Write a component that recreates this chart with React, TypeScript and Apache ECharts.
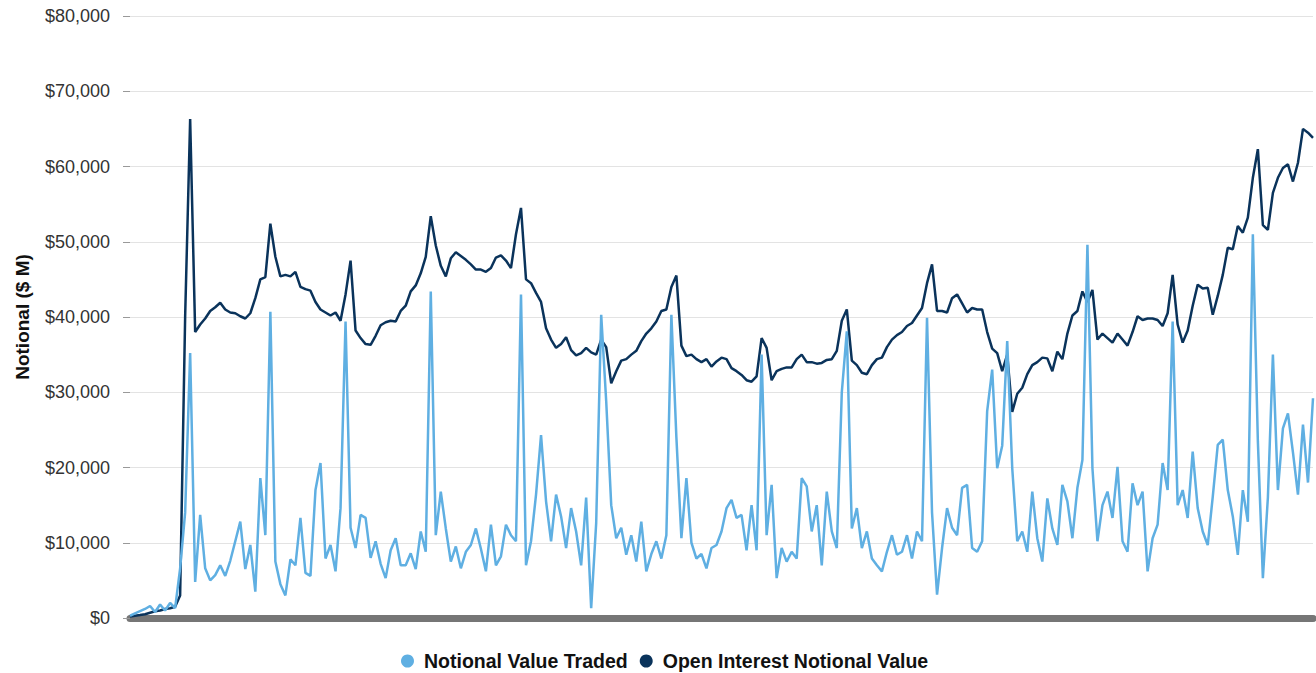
import React, { useEffect, useRef } from "react";
import * as echarts from "echarts";

// Values in $ thousand million (i.e. $ billions); converted to $ M below
const notionalTradedK = [
  0.3, 0.6, 0.9, 1.2, 1.6, 0.8, 1.8, 1.0, 2.0, 1.3,
  6.6, 14.0, 35.2, 4.8, 13.7, 6.6, 5.0, 5.7, 7.0, 5.6,
  7.6, 10.2, 12.8, 6.5, 9.7, 3.5, 18.6, 11.0, 40.7, 7.5,
  4.5, 3.0, 7.8, 7.0, 13.3, 6.0, 5.6, 17.0, 20.6, 7.9,
  9.7, 6.2, 14.6, 39.4, 12.0, 9.3, 13.7, 13.3, 8.0, 10.2,
  7.2, 5.3, 9.0, 10.6, 7.0, 7.0, 8.6, 6.5, 11.5, 8.8,
  43.4, 11.0, 16.8, 11.9, 7.5, 9.5, 6.6, 8.8, 9.7, 11.9,
  9.2, 6.2, 12.4, 7.0, 8.2, 12.4, 11.0, 10.2, 43.0, 7.0,
  10.2, 16.4, 24.3, 15.5, 10.2, 16.4, 13.5, 9.3, 14.6, 11.5,
  7.0, 16.0, 1.3, 12.6, 40.3, 28.8, 15.0, 10.6, 12.0, 8.4,
  11.0, 7.5, 12.8, 6.2, 8.5, 10.2, 7.9, 11.0, 40.3, 24.0,
  10.6, 18.6, 10.0, 7.9, 8.5, 6.6, 9.3, 9.7, 11.5, 14.6,
  15.7, 13.3, 13.7, 9.0, 15.0, 9.0, 35.0, 11.0, 17.7, 5.3,
  9.3, 7.5, 8.8, 7.9, 18.6, 17.5, 11.5, 15.0, 7.0, 16.8,
  11.5, 9.3, 30.0, 38.1, 11.9, 14.6, 9.3, 11.5, 7.9, 7.0,
  6.2, 8.8, 11.0, 8.4, 8.8, 11.0, 7.9, 11.5, 10.2, 39.9,
  14.0, 3.1, 9.3, 14.6, 12.0, 11.0, 17.3, 17.7, 9.3, 8.8,
  10.2, 27.5, 33.0, 19.9, 22.9, 36.8, 19.9, 10.2, 11.5, 8.8,
  16.8, 10.6, 7.5, 15.9, 11.9, 9.7, 17.7, 15.5, 10.6, 17.3,
  21.0, 49.6, 19.9, 10.2, 15.0, 16.8, 13.3, 20.1, 10.2, 8.8,
  17.9, 15.0, 16.8, 6.2, 10.6, 12.4, 20.6, 17.0, 39.4, 15.0,
  17.0, 13.3, 22.1, 14.6, 11.5, 9.7, 16.1, 23.0, 23.7, 17.0,
  13.5, 8.4, 17.0, 12.8, 51.0, 23.5, 5.3, 16.0, 35.0, 17.0,
  25.2, 27.2, 22.0, 16.4, 25.7, 18.0, 29.2,
];

const openInterestK = [
  0.2, 0.3, 0.4, 0.5, 0.7, 0.9, 1.0, 1.2, 1.3, 1.5,
  3.0, 40.0, 66.3, 38.0, 39.0, 39.8, 40.8, 41.3, 41.9, 41.0,
  40.6, 40.5, 40.1, 39.8, 40.5, 42.5, 45.0, 45.3, 52.4, 48.0,
  45.4, 45.6, 45.4, 46.0, 44.0, 43.7, 43.5, 42.0, 41.0, 40.6,
  40.2, 40.6, 39.5, 43.0, 47.5, 38.2, 37.2, 36.4, 36.3, 37.5,
  38.9, 39.3, 39.5, 39.4, 40.8, 41.5, 43.4, 44.2, 45.8, 48.0,
  53.4, 49.5, 46.8, 45.4, 47.8, 48.6, 48.1, 47.6, 47.0, 46.3,
  46.3, 46.0, 46.5, 47.9, 48.2, 47.5, 46.5, 51.0, 54.5, 45.0,
  44.5, 43.2, 42.0, 38.5, 37.0, 35.9, 36.4, 37.3, 35.6, 34.9,
  35.2, 35.9, 35.3, 35.0, 37.0, 36.0, 31.2, 32.8, 34.2, 34.4,
  35.0, 35.5, 36.8, 37.8, 38.5, 39.4, 40.8, 41.0, 44.0, 45.5,
  36.2, 34.8, 35.0, 34.4, 34.0, 34.4, 33.4, 34.1, 34.6, 34.4,
  33.2, 32.8, 32.3, 31.6, 31.4, 32.1, 37.2, 35.9, 31.6, 32.8,
  33.1, 33.3, 33.3, 34.4, 35.0, 34.0, 34.0, 33.8, 33.9, 34.3,
  34.4, 35.5, 39.5, 41.0, 34.2, 33.6, 32.6, 32.4, 33.6, 34.4,
  34.6, 36.0, 37.0, 37.6, 38.0, 38.8, 39.2, 40.2, 41.2, 44.5,
  47.0, 40.8, 40.8, 40.6, 42.5, 43.0, 41.8, 40.6, 41.2, 41.0,
  41.0, 38.0, 35.8, 35.2, 32.8, 35.0, 27.4, 29.8, 30.6, 32.4,
  33.6, 34.0, 34.6, 34.5, 32.8, 35.4, 34.4, 37.8, 40.2, 40.8,
  43.4, 42.0, 43.6, 37.0, 37.8, 37.2, 36.6, 37.8, 37.0, 36.2,
  38.0, 40.1, 39.6, 39.8, 39.8, 39.6, 38.8, 40.5, 45.6, 39.0,
  36.6, 38.2, 41.5, 44.3, 43.8, 43.9, 40.3, 42.8, 45.6, 49.2,
  49.0, 52.1, 51.2, 53.2, 58.5, 62.3, 52.2, 51.6, 56.5, 58.5,
  59.8, 60.3, 58.0, 60.5, 65.0, 64.5, 63.8,
];

const seriesNames = ["Notional Value Traded", "Open Interest Notional Value"];
const yTicks = [0, 10000, 20000, 30000, 40000, 50000, 60000, 70000, 80000];

const BOLD_FONT = '"Liberation Sans Narrow", "Arial Narrow", "Liberation Sans", Arial, sans-serif';

export default function App() {
  const ref = useRef<HTMLDivElement>(null);

  useEffect(() => {
    document.body.style.margin = "0";
    if (!ref.current) return;
    const chart = echarts.init(ref.current, undefined, { renderer: "svg" });
    const categories = notionalTradedK.map((_, i) => String(i));
    chart.setOption({
      animation: false,
      backgroundColor: "#ffffff",
      grid: { left: 130, right: 3, top: 16, bottom: 55, containLabel: false },
      legend: {
        data: seriesNames,
        top: 651,
        left: 401,
        padding: 0,
        icon: "circle",
        itemWidth: 13,
        itemHeight: 13,
        itemGap: 12,
        textStyle: {
          fontFamily: BOLD_FONT,
          fontWeight: "bold",
          fontSize: 19.5,
          color: "#111",
          padding: [0, 0, 0, 5],
        },
      },
      xAxis: {
        type: "category",
        data: categories,
        boundaryGap: false,
        offset: 3,
        axisLine: { show: true, lineStyle: { color: "#767676", width: 7 } },
        axisTick: { show: false },
        axisLabel: { show: false },
        splitLine: { show: false },
      },
      yAxis: {
        type: "value",
        min: yTicks[0],
        max: yTicks[yTicks.length - 1],
        interval: yTicks[1] - yTicks[0],
        name: "Notional ($ M)",
        nameLocation: "middle",
        nameGap: 98,
        nameTextStyle: { fontFamily: BOLD_FONT, fontWeight: "bold", fontSize: 19, color: "#111" },
        axisLine: { show: false },
        axisTick: { show: true, length: 7, lineStyle: { color: "#999" } },
        axisLabel: {
          margin: 20,
          fontFamily: '"Liberation Sans", Arial, sans-serif',
          fontSize: 18,
          color: "#333",
          formatter: (v: number) => "$" + v.toLocaleString("en-US"),
        },
        splitLine: { show: true, lineStyle: { color: "#e3e3e3", width: 1 } },
      },
      series: [
        {
          name: seriesNames[0],
          type: "line",
          data: notionalTradedK.map((v) => Math.round(v * 1000)),
          showSymbol: false,
          z: 3,
          itemStyle: { color: "#5FAFE2" },
          lineStyle: { color: "#5FAFE2", width: 2.5 },
        },
        {
          name: seriesNames[1],
          type: "line",
          data: openInterestK.map((v) => Math.round(v * 1000)),
          showSymbol: false,
          z: 2,
          itemStyle: { color: "#0A335B" },
          lineStyle: { color: "#0A335B", width: 2.5 },
        },
      ],
    });
    return () => chart.dispose();
  }, []);

  return <div ref={ref} style={{ width: 1316, height: 673 }} />;
}
